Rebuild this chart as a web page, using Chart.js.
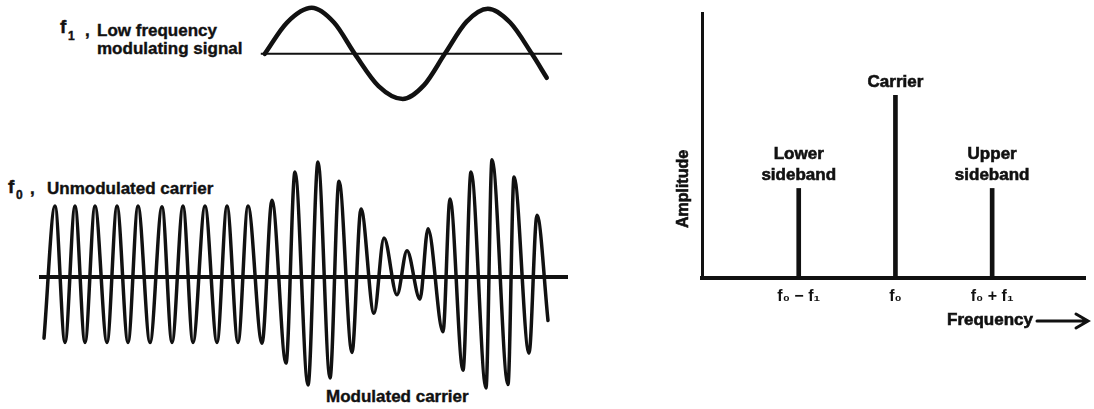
<!DOCTYPE html>
<html>
<head>
<meta charset="utf-8">
<title>Amplitude modulation: waveforms and spectrum</title>
<script src="https://cdn.jsdelivr.net/npm/chart.js@4.4.1/dist/chart.umd.min.js"></script>
<style>
  body { margin: 0; background: #fff; width: 1094px; height: 409px; position: relative; overflow: hidden;
         font-family: "Liberation Sans", Arial, sans-serif; font-weight: bold; color: #111; }
  canvas { position: absolute; }
  .t { position: absolute; white-space: nowrap; line-height: 1; font-size: 17px; -webkit-text-stroke: 0.4px #111; }
  .f { font-size: 19px; }
  .s { font-size: 12px; }
</style>
<script>
  var ink = '#111';
  var fontFamily = '"Liberation Sans", Arial, sans-serif';

  // f1, low frequency modulating signal (phase in degrees, relative amplitude)
  var signalPhase = [0, 45, 95, 140, 182, 230, 279, 322, 364, 408, 451, 496, 540, 570];
  var signalAmp   = [0, 0.68, 1.0, 0.68, 0, -0.7, -0.98, -0.68, 0, 0.7, 0.98, 0.68, 0, -0.52];
  var signalAxis  = [-8, 601];

  // carrier trace, peaks and troughs (time in arbitrary units, unmodulated peak = 1)
  var carrierTime = [14, 25, 35, 45, 55, 65, 77, 87, 98, 108, 120, 132, 142, 153, 163, 175, 187, 197, 208, 218,
                     232, 242, 256, 265, 278, 288, 300, 309, 322, 331, 344, 354, 367, 377, 390, 398, 413, 420,
                     433, 441, 456, 462, 478, 484, 499, 507, 518];
  var carrierAmp  = [-0.86, 1.0, -0.92, 1.0, -0.92, 1.0, -0.92, 1.0, -0.92, 1.0, -0.92, 0.99, -0.92, 1.0, -0.92,
                     1.0, -0.92, 1.0, -0.92, 1.0, -0.93, 1.08, -1.21, 1.48, -1.52, 1.62, -1.42, 1.35, -1.06, 0.96,
                     -0.51, 0.55, -0.25, 0.37, -0.31, 0.68, -0.77, 1.10, -1.31, 1.48, -1.56, 1.65, -1.51, 1.41,
                     -1.07, 0.87, -0.61];
  var carrierAxis = [9, 538];

  // spectrum
  var freqPos    = [1, 2, 3];
  var freqLabels = ['f\u2080 \u2212 f\u2081', 'f\u2080', 'f\u2080 + f\u2081'];
  var lineNames  = [['Lower', 'sideband'], ['Carrier'], ['Upper', 'sideband']];
  var lineAmp    = [0.49, 1.0, 0.49];

  function pts(xs, ys) {
    return xs.map(function(x, i) { return { x: x, y: ys[i] }; });
  }

  function flatAxis(xs) {
    return xs.map(function(x) { return { x: x, y: 0 }; });
  }

  function waveChart(id, axisData, traceData, axisWidth, traceWidth, xr, yr) {
    new Chart(document.getElementById(id), {
      type: 'line',
      data: {
        datasets: [
          { data: axisData, borderColor: ink, borderWidth: axisWidth, pointRadius: 0 },
          { data: traceData, borderColor: ink, borderWidth: traceWidth, pointRadius: 0,
            cubicInterpolationMode: 'monotone', borderCapStyle: 'round', borderJoinStyle: 'round' }
        ]
      },
      options: {
        responsive: false,
        animation: false,
        layout: { padding: 0 },
        plugins: { legend: { display: false }, tooltip: { enabled: false } },
        scales: {
          x: { type: 'linear', display: false, min: xr[0], max: xr[1] },
          y: { display: false, min: yr[0], max: yr[1] }
        }
      }
    });
  }

  function boldText(ctx, txt, x, y) {
    ctx.fillText(txt, x, y);
    ctx.strokeText(txt, x, y);
  }

  var spectrumText = {
    id: 'spectrumText',
    afterDatasetsDraw: function(chart) {
      var ctx = chart.ctx, area = chart.chartArea;
      var bars = chart.getDatasetMeta(0).data;
      ctx.save();
      ctx.fillStyle = ink;
      ctx.strokeStyle = ink;
      ctx.lineWidth = 0.6;
      ctx.font = 'bold 17px ' + fontFamily;
      ctx.textAlign = 'center';
      ctx.textBaseline = 'alphabetic';
      bars.forEach(function(bar, i) {
        var lines = lineNames[i];
        lines.forEach(function(txt, j) {
          boldText(ctx, txt, bar.x, bar.y - 8 - (lines.length - 1 - j) * 21);
        });
      });

      ctx.textAlign = 'right';
      boldText(ctx, 'Frequency', area.right - 52, area.bottom + 47);

      // arrow after "Frequency"
      var ay = area.bottom + 43, ax = area.right + 3;
      ctx.lineWidth = 3;
      ctx.lineCap = 'round';
      ctx.beginPath();
      ctx.moveTo(area.right - 48, ay);
      ctx.lineTo(ax, ay);
      ctx.moveTo(ax - 12, ay - 7);
      ctx.lineTo(ax, ay);
      ctx.lineTo(ax - 12, ay + 7);
      ctx.stroke();

      ctx.translate(area.left - 18, area.bottom - 89);
      ctx.rotate(-Math.PI / 2);
      ctx.textAlign = 'center';
      ctx.textBaseline = 'middle';
      ctx.lineWidth = 0.6;
      ctx.font = 'bold 16px ' + fontFamily;
      boldText(ctx, 'Amplitude', 0, 0);
      ctx.restore();
    }
  };

  function spectrumChart() {
    new Chart(document.getElementById('spectrumChart'), {
      type: 'bar',
      data: {
        datasets: [{ data: pts(freqPos, lineAmp), backgroundColor: ink, barThickness: 4 }]
      },
      options: {
        responsive: false,
        animation: false,
        layout: { padding: { left: 102, right: 9, top: 13, bottom: 71 } },
        plugins: { legend: { display: false }, tooltip: { enabled: false } },
        scales: {
          x: {
            type: 'linear', min: 0, max: 3.96, offset: false,
            grid: { display: true, color: 'rgba(0,0,0,0)', drawTicks: false },
            border: { display: true, color: ink, width: 4 },
            afterBuildTicks: function(s) { s.ticks = freqPos.map(function(v) { return { value: v }; }); },
            afterFit: function(s) { s.height = 60; },
            ticks: {
              autoSkip: false, maxRotation: 0, padding: 9, color: ink,
              font: { family: fontFamily, size: 16, weight: 'bold' },
              callback: function(v) { var i = freqPos.indexOf(v); return i < 0 ? '' : freqLabels[i]; }
            }
          },
          y: {
            min: 0, max: 1.45,
            grid: { display: true, color: 'rgba(0,0,0,0)', drawTicks: false },
            border: { display: true, color: ink, width: 3 },
            ticks: { display: false },
            afterFit: function(s) { s.width = 0; }
          }
        }
      },
      plugins: [spectrumText]
    });
  }

  function start() {
    waveChart('signalChart', flatAxis(signalAxis), pts(signalPhase, signalAmp), 2, 4.5, [-50, 617], [-1.22, 1.17]);
    waveChart('carrierChart', flatAxis(carrierAxis), pts(carrierTime, carrierAmp), 4, 3.5, [0, 550], [-1.8, 2.0]);
    spectrumChart();
  }
</script>
</head>
<body onload="start()">
  <div class="t f" style="left:60px; top:17px">f</div>
  <div class="t s" style="left:68px; top:30px">1</div>
  <div class="t" style="left:85px; top:22px">,</div>
  <div class="t" style="left:97px; top:22px">Low frequency</div>
  <div class="t" style="left:97px; top:40px">modulating signal</div>

  <div class="t f" style="left:8px; top:177px">f</div>
  <div class="t s" style="left:16px; top:189px">0</div>
  <div class="t" style="left:30px; top:180px">,</div>
  <div class="t" style="left:47px; top:180px">Unmodulated carrier</div>

  <div class="t" style="left:326px; top:388px">Modulated carrier</div>

  <canvas id="signalChart" style="left:240px; top:0px" width="330" height="110"></canvas>
  <canvas id="carrierChart" style="left:30px; top:135px" width="550" height="270"></canvas>
  <canvas id="spectrumChart" style="left:600px; top:0px" width="494" height="409"></canvas>
</body>
</html>
